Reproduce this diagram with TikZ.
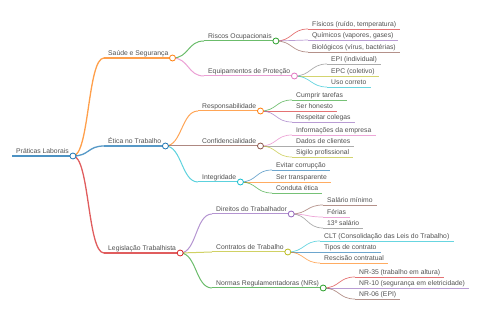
\documentclass[tikz,border=0pt]{standalone}
\usepackage{fontspec}
\setmainfont{Liberation Sans}
\usetikzlibrary{positioning}
\definecolor{cBlue}{HTML}{1F77B4}
\definecolor{cOrange}{HTML}{FF7F0E}
\definecolor{cGreen}{HTML}{2CA02C}
\definecolor{cRed}{HTML}{D62728}
\definecolor{cPurple}{HTML}{9467BD}
\definecolor{cBrown}{HTML}{8C564B}
\definecolor{cPink}{HTML}{E377C2}
\definecolor{cGray}{HTML}{7F7F7F}
\definecolor{cOlive}{HTML}{BCBD22}
\definecolor{cCyan}{HTML}{17BECF}
\definecolor{TxtGray}{HTML}{505050}

\newcommand{\uline}[2]{\draw[#1] (#2.south west) -- (#2.south east);}
\newcommand{\mmlink}[3]{\draw[#1] (#2.south east) .. controls +(16.5,0) and +(-16.5,0) .. (#3.south west);}
\newcommand{\knob}[2]{\node[knobdot, draw=#1] at (#2.south east) {};}

\begin{document}
\begin{tikzpicture}[x=1pt, y=-1pt,
    mm/.style={anchor=south west, inner xsep=4pt, inner ysep=1pt, text height=5pt, text depth=1.5pt,
      font=\fontsize{6.8}{8}\selectfont, text=TxtGray},
    knobdot/.style={circle, fill=white, inner sep=0pt, minimum size=6pt, line width=0.8pt},
    w0/.style={line width=1.8pt, draw opacity=0.8}, w1/.style={line width=1.3pt, draw opacity=0.75},
    w2/.style={line width=1pt, draw opacity=0.7}, w3/.style={line width=0.7pt, draw opacity=0.65}]
\useasboundingbox (0,0) rectangle (480,320);
% raiz
\node[mm] (root) at (12,156) {Práticas Laborais};
% nível 1
\node[mm] (sau) at (104,58) {Saúde e Segurança};
\node[mm] (eti) at (104,146) {Ética no Trabalho};
\node[mm] (leg) at (104,253) {Legislação Trabalhista};
% nível 2
\node[mm] (ris) at (204,41) {Riscos Ocupacionais};
\node[mm] (equ) at (204,76) {Equipamentos de Proteção};
\node[mm] (res) at (198,111) {Responsabilidade};
\node[mm] (con) at (198,146) {Confidencialidade};
\node[mm] (int) at (198,182) {Integridade};
\node[mm] (dir) at (212,214) {Direitos do Trabalhador};
\node[mm] (ctr) at (212,252) {Contratos de Trabalho};
\node[mm] (nor) at (212,288) {Normas Regulamentadoras (NRs)};
% folhas
\node[mm] (fis) at (308,29) {Físicos (ruído, temperatura)};
\node[mm] (qui) at (308,40) {Químicos (vapores, gases)};
\node[mm] (bio) at (308,52) {Biológicos (vírus, bactérias)};
\node[mm] (epi) at (327,64) {EPI (individual)};
\node[mm] (epc) at (327,76) {EPC (coletivo)};
\node[mm] (uso) at (327,87) {Uso correto};
\node[mm] (cum) at (292,100) {Cumprir tarefas};
\node[mm] (hon) at (292,111) {Ser honesto};
\node[mm] (rsp) at (292,122) {Respeitar colegas};
\node[mm] (inf) at (292,135) {Informações da empresa};
\node[mm] (dad) at (292,146) {Dados de clientes};
\node[mm] (sig) at (292,157) {Sigilo profissional};
\node[mm] (evi) at (272,170) {Evitar corrupção};
\node[mm] (tra) at (272,182) {Ser transparente};
\node[mm] (cdt) at (272,193) {Conduta ética};
\node[mm] (sal) at (323,205) {Salário mínimo};
\node[mm] (fer) at (323,217) {Férias};
\node[mm] (dec) at (323,228) {13º salário};
\node[mm] (clt) at (320,241) {CLT (Consolidação das Leis do Trabalho)};
\node[mm] (tip) at (320,252) {Tipos de contrato};
\node[mm] (rsc) at (320,263) {Rescisão contratual};
\node[mm] (n35) at (355,277) {NR-35 (trabalho em altura)};
\node[mm] (n10) at (355,288) {NR-10 (segurança em eletricidade)};
\node[mm] (n06) at (355,299) {NR-06 (EPI)};
% sublinhados
\uline{cBlue, w0}{root}
\uline{cOrange, w1}{sau} \uline{cBlue, w1}{eti} \uline{cRed, w1}{leg}
\uline{cGreen, w2}{ris} \uline{cPink, w2}{equ}
\uline{cOrange, w2}{res} \uline{cBrown, w2}{con} \uline{cCyan, w2}{int}
\uline{cPurple, w2}{dir} \uline{cOlive, w2}{ctr} \uline{cGreen, w2}{nor}
\uline{cRed, w3}{fis} \uline{cPurple, w3}{qui} \uline{cBrown, w3}{bio}
\uline{cGray, w3}{epi} \uline{cOlive, w3}{epc} \uline{cCyan, w3}{uso}
\uline{cGreen, w3}{cum} \uline{cRed, w3}{hon} \uline{cPurple, w3}{rsp}
\uline{cPink, w3}{inf} \uline{cGray, w3}{dad} \uline{cOlive, w3}{sig}
\uline{cBlue, w3}{evi} \uline{cOrange, w3}{tra} \uline{cGreen, w3}{cdt}
\uline{cBrown, w3}{sal} \uline{cPink, w3}{fer} \uline{cGray, w3}{dec}
\uline{cCyan, w3}{clt} \uline{cBlue, w3}{tip} \uline{cOrange, w3}{rsc}
\uline{cRed, w3}{n35} \uline{cPurple, w3}{n10} \uline{cBrown, w3}{n06}
% ligações
\mmlink{cOrange, w1}{root}{sau} \mmlink{cBlue, w1}{root}{eti} \mmlink{cRed, w1}{root}{leg}
\mmlink{cGreen, w2}{sau}{ris} \mmlink{cPink, w2}{sau}{equ}
\mmlink{cOrange, w2}{eti}{res} \mmlink{cBrown, w2}{eti}{con} \mmlink{cCyan, w2}{eti}{int}
\mmlink{cPurple, w2}{leg}{dir} \mmlink{cOlive, w2}{leg}{ctr} \mmlink{cGreen, w2}{leg}{nor}
\mmlink{cRed, w3}{ris}{fis} \mmlink{cPurple, w3}{ris}{qui} \mmlink{cBrown, w3}{ris}{bio}
\mmlink{cGray, w3}{equ}{epi} \mmlink{cOlive, w3}{equ}{epc} \mmlink{cCyan, w3}{equ}{uso}
\mmlink{cGreen, w3}{res}{cum} \mmlink{cRed, w3}{res}{hon} \mmlink{cPurple, w3}{res}{rsp}
\mmlink{cPink, w3}{con}{inf} \mmlink{cGray, w3}{con}{dad} \mmlink{cOlive, w3}{con}{sig}
\mmlink{cBlue, w3}{int}{evi} \mmlink{cOrange, w3}{int}{tra} \mmlink{cGreen, w3}{int}{cdt}
\mmlink{cBrown, w3}{dir}{sal} \mmlink{cPink, w3}{dir}{fer} \mmlink{cGray, w3}{dir}{dec}
\mmlink{cCyan, w3}{ctr}{clt} \mmlink{cBlue, w3}{ctr}{tip} \mmlink{cOrange, w3}{ctr}{rsc}
\mmlink{cRed, w3}{nor}{n35} \mmlink{cPurple, w3}{nor}{n10} \mmlink{cBrown, w3}{nor}{n06}
% círculos
\knob{cBlue}{root}
\knob{cOrange}{sau} \knob{cBlue}{eti} \knob{cRed}{leg}
\knob{cGreen}{ris} \knob{cPink}{equ}
\knob{cOrange}{res} \knob{cBrown}{con} \knob{cCyan}{int}
\knob{cPurple}{dir} \knob{cOlive}{ctr} \knob{cGreen}{nor}
\end{tikzpicture}
\end{document}
